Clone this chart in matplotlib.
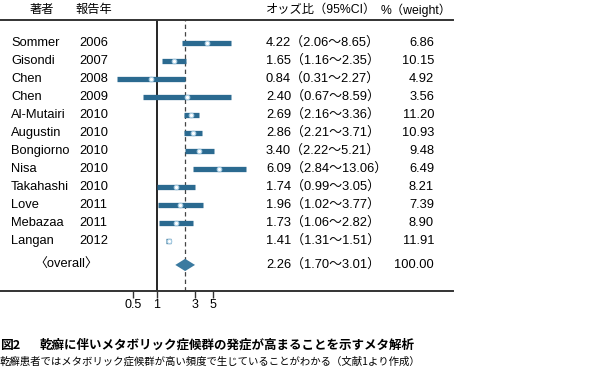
import numpy as np
import matplotlib
matplotlib.use('Agg')
import matplotlib.pyplot as plt

# study data
authors = ['Sommer', 'Gisondi', 'Chen', 'Chen', 'Al-Mutairi', 'Augustin',
           'Bongiorno', 'Nisa', 'Takahashi', 'Love', 'Mebazaa', 'Langan']
years = [2006, 2007, 2008, 2009, 2010, 2010, 2010, 2010, 2010, 2011, 2011, 2012]
or_est = [4.22, 1.65, 0.84, 2.40, 2.69, 2.86, 3.40, 6.09, 1.74, 1.96, 1.73, 1.41]
ci_low = [2.06, 1.16, 0.31, 0.67, 2.16, 2.21, 2.22, 2.84, 0.99, 1.02, 1.06, 1.31]
ci_high = [8.65, 2.35, 2.27, 8.59, 3.36, 3.71, 5.21, 13.06, 3.05, 3.77, 2.82, 1.51]
weights = [6.86, 10.15, 4.92, 3.56, 11.20, 10.93, 9.48, 6.49, 8.21, 7.39, 8.90, 11.91]

overall_est = 2.26
overall_low = 1.70
overall_high = 3.01
overall_weight = 100.00

xticks = [0.5, 1, 3, 5]
xticklabels = ['0.5', '1', '3', '5']

headers = ['著者', '報告年', 'オッズ比（95%CI）', '%（weight）']
title = '乾癬に伴いメタボリック症候群の発症が高まることを示すメタ解析'
subtitle = '乾癬患者ではメタボリック症候群が高い頻度で生じていることがわかる（文献1より作成）'

fonts = ['Liberation Sans', 'Noto Sans CJK JP', 'DejaVu Sans']
plt.rcParams['font.family'] = fonts

W, H = 595, 391
blue = '#2b6a90'
dot_edge = '#a9cde3'

fig = plt.figure(figsize=(W / 100, H / 100), dpi=100)
# axes spans the ruled table area (pixels 0..453 wide, 20..290 tall)
ax = fig.add_axes([0, 1 - 290.5 / H, 453 / W, (290.5 - 20) / H])
ax.set_xscale('log')
px_per_ln = 34.5
x1_px = 157
ax.set_xlim(np.exp(-x1_px / px_per_ln), np.exp((453 - x1_px) / px_per_ln))
row_px = 18
first_px = 43
ax.set_ylim((290.5 - first_px) / row_px, (20 - first_px) / row_px)

rows = np.arange(len(authors))
y_overall = len(authors) + 0.33

# reference lines
ax.axvline(1, color='black', lw=1.2, zorder=1)
ax.axvline(overall_est, color='#444444', lw=0.9, ls=(0, (3.5, 2.5)), zorder=1)

# CI bars and point estimates
ax.hlines(rows, ci_low, ci_high, color=blue, lw=3.8, capstyle='butt', zorder=2)
ax.plot(or_est, rows, 'o', ms=3.2, mfc='white', mec=dot_edge, mew=0.9, zorder=3)

# pooled estimate diamond
h = 0.34
ax.fill([overall_low, overall_est, overall_high, overall_est],
        [y_overall, y_overall - h, y_overall, y_overall + h],
        color='#3a7aa0', lw=0, zorder=3)

# axes styling
for s in ['left', 'right']:
    ax.spines[s].set_visible(False)
for s in ['top', 'bottom']:
    ax.spines[s].set_linewidth(1.4)
    ax.spines[s].set_color('#333333')
ax.set_yticks([])
ax.set_xticks(xticks)
ax.set_xticklabels(xticklabels)
ax.xaxis.set_minor_locator(plt.NullLocator())
ax.tick_params(axis='x', direction='out', length=5, width=1.0, pad=1,
               labelsize=9, color='#333333')
for lab in ax.get_xticklabels():
    lab.set_fontfamily(fonts)

# text columns: x in pixels converted to axes fraction, y in data rows
tr = ax.get_yaxis_transform()
def ax_x(px):
    return px / 453

fs = 9.3
for i in rows:
    ax.text(ax_x(11), i, authors[i], transform=tr, fontsize=fs, va='center', ha='left')
    ax.text(ax_x(79), i, str(years[i]), transform=tr, fontsize=fs, va='center', ha='left')
    ax.text(ax_x(266), i, f'{or_est[i]:.2f}（{ci_low[i]:.2f}～{ci_high[i]:.2f}）',
            transform=tr, fontsize=fs, va='center', ha='left')
    ax.text(ax_x(434), i, f'{weights[i]:.2f}', transform=tr, fontsize=fs,
            va='center', ha='right')

ax.text(ax_x(34), y_overall, '〈overall〉', transform=tr, fontsize=fs, va='center', ha='left')
ax.text(ax_x(266), y_overall, f'{overall_est:.2f}（{overall_low:.2f}～{overall_high:.2f}）',
        transform=tr, fontsize=fs, va='center', ha='left')
ax.text(ax_x(434), y_overall, f'{overall_weight:.2f}', transform=tr, fontsize=fs,
        va='center', ha='right')

y_head = (10 - first_px) / row_px
for x_px, txt in zip([30, 75, 266, 381], headers):
    ax.text(ax_x(x_px), y_head, txt, transform=tr, fontsize=8.8, va='center',
            ha='left', clip_on=False)

# caption
fig.text(0, 1 - 345 / H, '図2', fontsize=9.2, fontweight='bold', va='center',
         ha='left', family=['Noto Sans CJK JP'])
fig.text(40 / W, 1 - 345 / H, title, fontsize=9.0, fontweight='bold', va='center',
         ha='left', family=['Noto Sans CJK JP'])
fig.text(0, 1 - 362 / H, subtitle, fontsize=7.5, va='center', ha='left',
         family=['Noto Sans CJK JP'])

fig.savefig('out.png', dpi=100)
